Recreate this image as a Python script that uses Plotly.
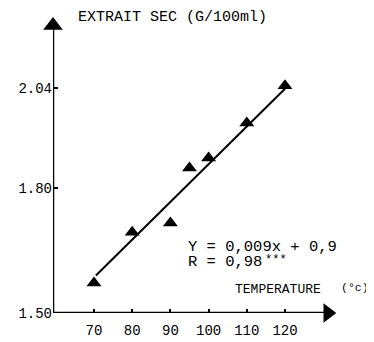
import plotly.graph_objects as go

# Data
temperature = [70, 80, 90, 95, 100, 110, 120]
extrait_sec = [1.572, 1.694, 1.716, 1.848, 1.872, 1.956, 2.045]

fit_x = [70.5, 120]
fit_y = [1.59, 2.038]

x_ticks = [70, 80, 90, 100, 110, 120]
x_tick_text = ["70", "80", "90", "100", "110", "120"]
y_ticks = [1.50, 1.80, 2.04]
y_tick_text = ["1.50", "1.80", "2.04"]

X_MIN, X_MAX = 59.27, 134.4
Y_MIN, Y_MAX = 1.50, 2.227
X_AXIS_END = 131.2
Y_AXIS_END = 2.19

FONT = "Liberation Mono, Courier New, monospace"

fig = go.Figure()

# axis lines
fig.add_shape(type="line", x0=X_MIN, x1=X_AXIS_END, y0=Y_MIN, y1=Y_MIN,
              line=dict(color="black", width=2.5), layer="below")
fig.add_shape(type="line", x0=X_MIN, x1=X_MIN, y0=Y_MIN, y1=Y_AXIS_END,
              line=dict(color="black", width=2.5), layer="below")

# arrow heads
fig.add_trace(go.Scatter(x=[X_MIN], y=[Y_AXIS_END], mode="markers",
                         marker=dict(symbol="triangle-up", size=17, color="black"),
                         hoverinfo="skip", showlegend=False, cliponaxis=False))
fig.add_trace(go.Scatter(x=[X_AXIS_END], y=[Y_MIN], mode="markers",
                         marker=dict(symbol="triangle-right", size=17, color="black"),
                         hoverinfo="skip", showlegend=False, cliponaxis=False))

# regression line
fig.add_trace(go.Scatter(x=fit_x, y=fit_y, mode="lines",
                         line=dict(color="black", width=2), showlegend=False))

# data points
fig.add_trace(go.Scatter(x=temperature, y=extrait_sec, mode="markers",
                         marker=dict(symbol="triangle-up", size=13, color="black"),
                         showlegend=False, cliponaxis=False))

fig.add_annotation(x=65.3, y=2.208, xref="x", yref="y", xanchor="left", yanchor="middle",
                   text="EXTRAIT SEC (G/100ml)", showarrow=False,
                   font=dict(family=FONT, size=15, color="black"))
fig.add_annotation(x=94.1, y=1.658, xref="x", yref="y", xanchor="left", yanchor="middle",
                   text="Y = 0,009x + 0,9", showarrow=False,
                   font=dict(family=FONT, size=15.5, color="black"))
fig.add_annotation(x=94.1, y=1.622, xref="x", yref="y", xanchor="left", yanchor="middle",
                   text="R = 0,98", showarrow=False,
                   font=dict(family=FONT, size=15.5, color="black"))
fig.add_annotation(x=114.3, y=1.627, xref="x", yref="y", xanchor="left", yanchor="middle",
                   text="***", showarrow=False,
                   font=dict(family=FONT, size=12, color="black"))
fig.add_annotation(x=106.4, y=1.557, xref="x", yref="y", xanchor="left", yanchor="middle",
                   text="TEMPERATURE", showarrow=False,
                   font=dict(family=FONT, size=13, color="black"))
fig.add_annotation(x=0.995, y=1.562, xref="paper", yref="y", xanchor="left", yanchor="middle",
                   text="(°c)", showarrow=False,
                   font=dict(family=FONT, size=11.5, color="black"))

fig.update_layout(
    width=366, height=334,
    margin=dict(l=45, r=34, t=2, b=29),
    paper_bgcolor="white", plot_bgcolor="white",
    font=dict(family=FONT, size=14, color="black"),
    xaxis=dict(range=[X_MIN, X_MAX], tickvals=x_ticks, ticktext=x_tick_text,
               showgrid=False, zeroline=False, showline=False,
               ticks="inside", ticklen=4, tickwidth=2, tickcolor="black",
               ticklabelstandoff=7,
               tickfont=dict(family=FONT, size=14)),
    yaxis=dict(range=[Y_MIN, Y_MAX], tickvals=y_ticks, ticktext=y_tick_text,
               showgrid=False, zeroline=False, showline=False,
               ticks="inside", ticklen=5, tickwidth=2, tickcolor="black",
               tickfont=dict(family=FONT, size=14)),
)

fig.write_html("out.html")
